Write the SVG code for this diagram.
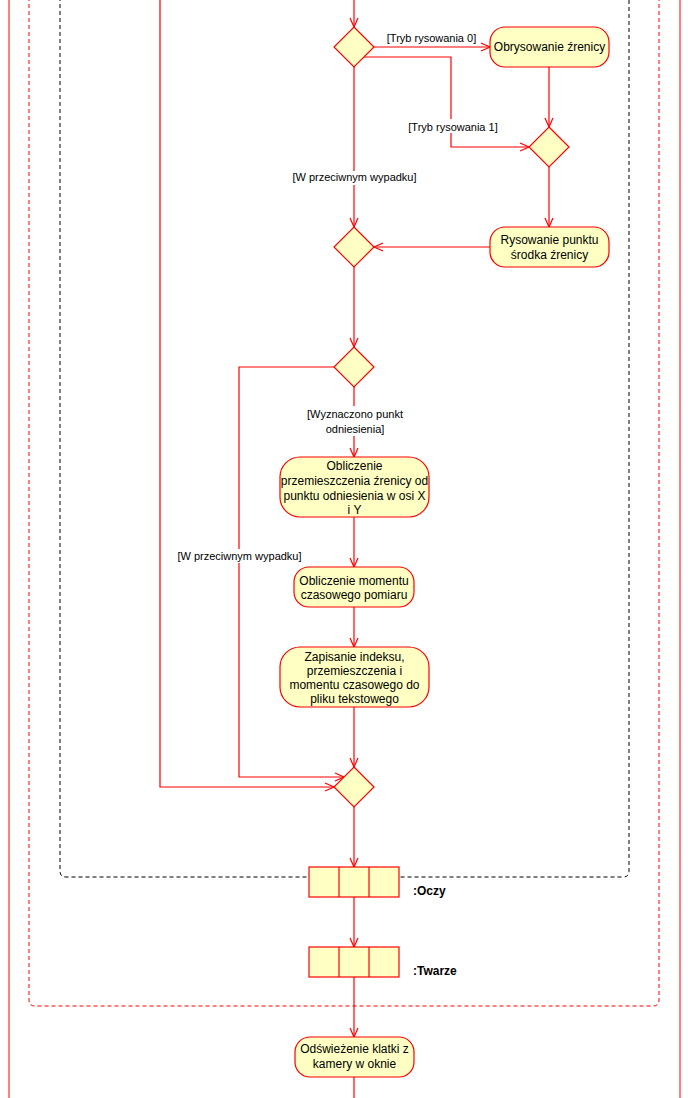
<svg xmlns="http://www.w3.org/2000/svg" width="688" height="1098" viewBox="0 0 688 1098">
  <style>
    .node { fill: #FFFFC4; stroke: #FF0000; stroke-width: 1.2; }
    .edge { fill: none; stroke: #FF0000; stroke-width: 1.2; }
    .frame-red { fill: none; stroke: #FF0000; stroke-width: 1; }
    .frame-red-dash { fill: none; stroke: #FF0000; stroke-width: 1; stroke-dasharray: 4 3; }
    .frame-black-dash { fill: none; stroke: #000000; stroke-width: 1; stroke-dasharray: 4 3; }
    .txt { font-family: "Liberation Sans", Arial, sans-serif; font-size: 12px; fill: #000; text-anchor: middle; }
    .lbl { font-family: "Liberation Sans", Arial, sans-serif; font-size: 11px; fill: #000; text-anchor: middle; }
    .obj { font-family: "Liberation Sans", Arial, sans-serif; font-size: 12px; font-weight: bold; fill: #000; }
    .lblbg { fill: #FFFFFF; stroke: none; }
  </style>
  <defs>
    <marker id="arrow" markerUnits="userSpaceOnUse" markerWidth="12" markerHeight="12" viewBox="0 0 12 12" refX="10" refY="6" orient="auto">
      <path d="M1,2 L10,6 L1,10" fill="none" stroke="#FF0000" stroke-width="1.2"/>
    </marker>
  </defs>

  <rect width="688" height="1098" fill="#FFFFFF"/>

  <!-- partition and region frames -->
  <g id="frames">
    <line class="frame-red" x1="9" y1="0" x2="9" y2="1098"/>
    <line class="frame-red" x1="680" y1="0" x2="680" y2="1098"/>
    <path class="frame-red-dash" d="M29,-10 L29,1000 Q29,1006 35,1006 L653,1006 Q659,1006 659,1000 L659,-10"/>
    <path class="frame-black-dash" d="M60,-10 L60,871 Q60,877 66,877 L623,877 Q629,877 629,871 L629,-10"/>
  </g>

  <!-- control flows -->
  <g id="connectors">
    <line class="edge" x1="354" y1="0" x2="354" y2="27" marker-end="url(#arrow)"/>
    <line class="edge" x1="374" y1="47" x2="490" y2="47" marker-end="url(#arrow)"/>
    <polyline class="edge" points="364,57 451,57 451,147 529,147" marker-end="url(#arrow)"/>
    <line class="edge" x1="549" y1="67" x2="549" y2="127" marker-end="url(#arrow)"/>
    <line class="edge" x1="549" y1="167" x2="549" y2="227" marker-end="url(#arrow)"/>
    <line class="edge" x1="490" y1="247" x2="374" y2="247" marker-end="url(#arrow)"/>
    <line class="edge" x1="354" y1="67" x2="354" y2="227" marker-end="url(#arrow)"/>
    <line class="edge" x1="354" y1="267" x2="354" y2="347" marker-end="url(#arrow)"/>
    <polyline class="edge" points="334,367 239,367 239,777 344,777" marker-end="url(#arrow)"/>
    <line class="edge" x1="354" y1="387" x2="354" y2="457" marker-end="url(#arrow)"/>
    <line class="edge" x1="354" y1="517" x2="354" y2="567" marker-end="url(#arrow)"/>
    <line class="edge" x1="354" y1="607" x2="354" y2="647" marker-end="url(#arrow)"/>
    <line class="edge" x1="354" y1="707" x2="354" y2="767" marker-end="url(#arrow)"/>
    <polyline class="edge" points="160,0 160,787 334,787" marker-end="url(#arrow)"/>
    <line class="edge" x1="354" y1="807" x2="354" y2="867" marker-end="url(#arrow)"/>
    <line class="edge" x1="354" y1="897" x2="354" y2="947" marker-end="url(#arrow)"/>
    <line class="edge" x1="354" y1="977" x2="354" y2="1037" marker-end="url(#arrow)"/>
    <line class="edge" x1="354" y1="1077" x2="354" y2="1098"/>

    <!-- guard labels -->
    <g id="guards">
      <text class="lbl" x="431.5" y="42">[Tryb rysowania 0]</text>
      <rect class="lblbg" x="407" y="119" width="92" height="14"/>
      <text class="lbl" x="453" y="131">[Tryb rysowania 1]</text>
      <rect class="lblbg" x="291" y="171" width="127" height="14"/>
      <text class="lbl" x="354.5" y="181">[W przeciwnym wypadku]</text>
      <rect class="lblbg" x="305" y="406" width="100" height="30"/>
      <text class="lbl" x="355" y="418">[Wyznaczono punkt</text>
      <text class="lbl" x="355" y="433">odniesienia]</text>
      <rect class="lblbg" x="176" y="549" width="127" height="14"/>
      <text class="lbl" x="239.5" y="560">[W przeciwnym wypadku]</text>
    </g>
  </g>

  <!-- decision / merge nodes -->
  <g id="decision1"><polygon class="node" points="354,27 374,47 354,67 334,47"/></g>
  <g id="merge1"><polygon class="node" points="549,127 569,147 549,167 529,147"/></g>
  <g id="merge2"><polygon class="node" points="354,227 374,247 354,267 334,247"/></g>
  <g id="decision2"><polygon class="node" points="354,347 374,367 354,387 334,367"/></g>
  <g id="merge3"><polygon class="node" points="354,767 374,787 354,807 334,787"/></g>

  <!-- actions -->
  <g id="obrysowanie">
    <rect class="node" x="490" y="27" width="119" height="40" rx="15" ry="15"/>
    <text class="txt" x="549.5" y="51">Obrysowanie źrenicy</text>
  </g>
  <g id="rysowanie">
    <rect class="node" x="490" y="227" width="119" height="40" rx="15" ry="15"/>
    <text class="txt" x="549.5" y="244">Rysowanie punktu</text>
    <text class="txt" x="549.5" y="259">środka źrenicy</text>
  </g>
  <g id="przemieszczenie">
    <rect class="node" x="280" y="457" width="149" height="60" rx="20" ry="20"/>
    <text class="txt" x="354.5" y="470">Obliczenie</text>
    <text class="txt" x="354.5" y="485">przemieszczenia źrenicy od</text>
    <text class="txt" x="354.5" y="499.5">punktu odniesienia w osi X</text>
    <text class="txt" x="354.5" y="514">i Y</text>
  </g>
  <g id="moment">
    <rect class="node" x="294" y="567" width="120" height="40" rx="15" ry="15"/>
    <text class="txt" x="354" y="585">Obliczenie momentu</text>
    <text class="txt" x="354" y="599">czasowego pomiaru</text>
  </g>
  <g id="zapisanie">
    <rect class="node" x="280" y="647" width="149" height="60" rx="20" ry="20"/>
    <text class="txt" x="354.5" y="661">Zapisanie indeksu,</text>
    <text class="txt" x="354.5" y="675">przemieszczenia i</text>
    <text class="txt" x="354.5" y="689">momentu czasowego do</text>
    <text class="txt" x="354.5" y="703">pliku tekstowego</text>
  </g>
  <g id="odswiezenie">
    <rect class="node" x="295" y="1037" width="119" height="40" rx="15" ry="15"/>
    <text class="txt" x="354.5" y="1053">Odświeżenie klatki z</text>
    <text class="txt" x="354.5" y="1068">kamery w oknie</text>
  </g>

  <!-- expansion region pins -->
  <g id="pin-oczy">
    <rect class="node" x="309" y="867" width="90" height="30"/>
    <line class="edge" x1="339" y1="867" x2="339" y2="897"/>
    <line class="edge" x1="369" y1="867" x2="369" y2="897"/>
    <text class="obj" x="413" y="895">:Oczy</text>
  </g>
  <g id="pin-twarze">
    <rect class="node" x="309" y="947" width="90" height="30"/>
    <line class="edge" x1="339" y1="947" x2="339" y2="977"/>
    <line class="edge" x1="369" y1="947" x2="369" y2="977"/>
    <text class="obj" x="413" y="975">:Twarze</text>
  </g>
</svg>
